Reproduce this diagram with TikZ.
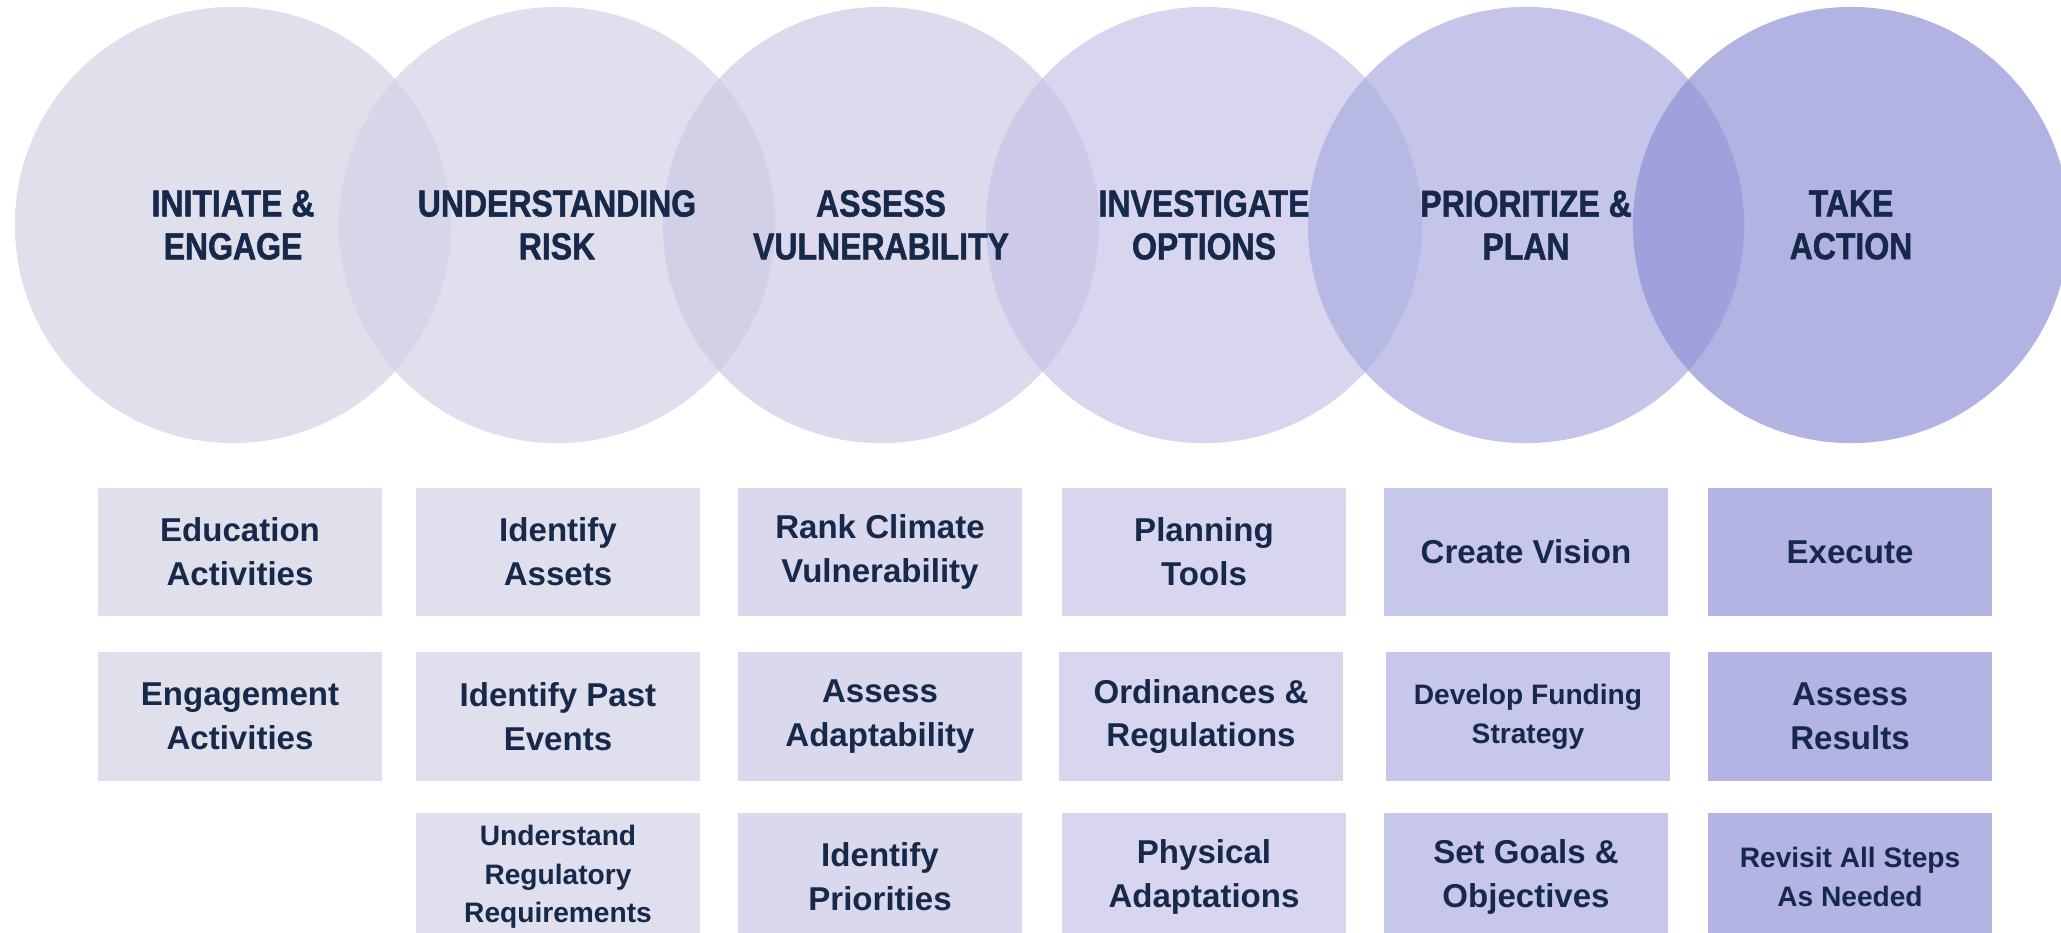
\documentclass[tikz,border=0pt]{standalone}
\usepackage{fontspec}
\setmainfont{Liberation Sans}
\newfontfamily\phasefont{Liberation Sans Bold}[FakeStretch=0.85, FakeBold=1.4]
\usepackage{tikz}
\usetikzlibrary{positioning}
\definecolor{inkblue}{RGB}{23,41,74}
\definecolor{phaseA}{RGB}{211,209,228}
\definecolor{phaseB}{RGB}{211,209,231}
\definecolor{phaseC}{RGB}{205,202,228}
\definecolor{phaseD}{RGB}{198,196,231}
\definecolor{phaseE}{RGB}{172,172,225}
\definecolor{phaseF}{RGB}{145,145,215}
\definecolor{taskA}{RGB}{224,223,236}
\definecolor{taskB}{RGB}{224,223,238}
\definecolor{taskC}{RGB}{218,216,236}
\definecolor{taskD}{RGB}{215,214,238}
\definecolor{taskE}{RGB}{199,199,235}
\definecolor{taskF}{RGB}{179,179,228}

\begin{document}
\begin{tikzpicture}[
    x=0.01cm, y=-0.01cm,
    phase/.style={circle, minimum size=4.36cm, inner sep=0pt, fill opacity=0.7},
    phaselabel/.style={text=inkblue, align=center, font=\phasefont\fontsize{10.7}{12.2}\selectfont},
    task/.style={rectangle, minimum width=2.83cm, minimum height=1.28cm, inner sep=0pt, text=inkblue, align=center, font=\bfseries\fontsize{9.4}{12.5}\selectfont},
    smalltask/.style={task, font=\bfseries\fontsize{8}{11}\selectfont}
]
\clip (0,0) rectangle (2061,932);

% the six phases
\node[phase, fill=phaseA] (initiate) at (233,225) {};
\node[phase, fill=phaseB] (understand) at (557,225) {};
\node[phase, fill=phaseC] (assess) at (881,225) {};
\node[phase, fill=phaseD] (investigate) at (1204,225) {};
\node[phase, fill=phaseE] (prioritize) at (1526,225) {};
\node[phase, fill=phaseF] (action) at (1851,225) {};

\node[phaselabel] (initiatetext) at (initiate) {INITIATE \&\\ENGAGE};
\node[phaselabel] (understandtext) at (understand) {UNDERSTANDING\\RISK};
\node[phaselabel] (assesstext) at (assess) {ASSESS\\VULNERABILITY};
\node[phaselabel] (investigatetext) at (investigate) {INVESTIGATE\\OPTIONS};
\node[phaselabel] (prioritizetext) at (prioritize) {PRIORITIZE \&\\PLAN};
\node[phaselabel] (actiontext) at (action) {TAKE\\ACTION};

% steps under each phase
\node[task, fill=taskA] (education) at (240,552) {Education\\Activities};
\node[task, fill=taskA, below=0.35cm of education] (engagement) {Engagement\\Activities};

\node[task, fill=taskB] (assets) at (558,552) {Identify\\Assets};
\node[task, fill=taskB, below=0.35cm of assets] (pastevents) {Identify Past\\Events};
\node[smalltask, fill=taskB, below=0.31cm of pastevents] (regulatory) {Understand\\Regulatory\\Requirements};

\node[task, fill=taskC] (rank) at (880,552) {Rank Climate\\Vulnerability};
\node[task, fill=taskC, below=0.35cm of rank] (adaptability) {Assess\\Adaptability};
\node[task, fill=taskC, below=0.31cm of adaptability] (priorities) {Identify\\Priorities};

\node[task, fill=taskD] (tools) at (1204,552) {Planning\\Tools};
\node[task, fill=taskD, below=0.35cm of tools, xshift=-0.03cm] (ordinances) {Ordinances \&\\Regulations};
\node[task, fill=taskD, below=0.31cm of ordinances, xshift=0.03cm] (physical) {Physical\\Adaptations};

\node[task, fill=taskE] (vision) at (1526,552) {Create Vision};
\node[smalltask, fill=taskE, below=0.35cm of vision, xshift=0.02cm] (funding) {Develop Funding\\Strategy};
\node[task, fill=taskE, below=0.31cm of funding, xshift=-0.02cm] (goals) {Set Goals \&\\Objectives};

\node[task, fill=taskF] (execute) at (1850,552) {Execute};
\node[task, fill=taskF, below=0.35cm of execute] (results) {Assess\\Results};
\node[smalltask, fill=taskF, below=0.31cm of results] (revisit) {Revisit All Steps\\As Needed};
\end{tikzpicture}
\end{document}
